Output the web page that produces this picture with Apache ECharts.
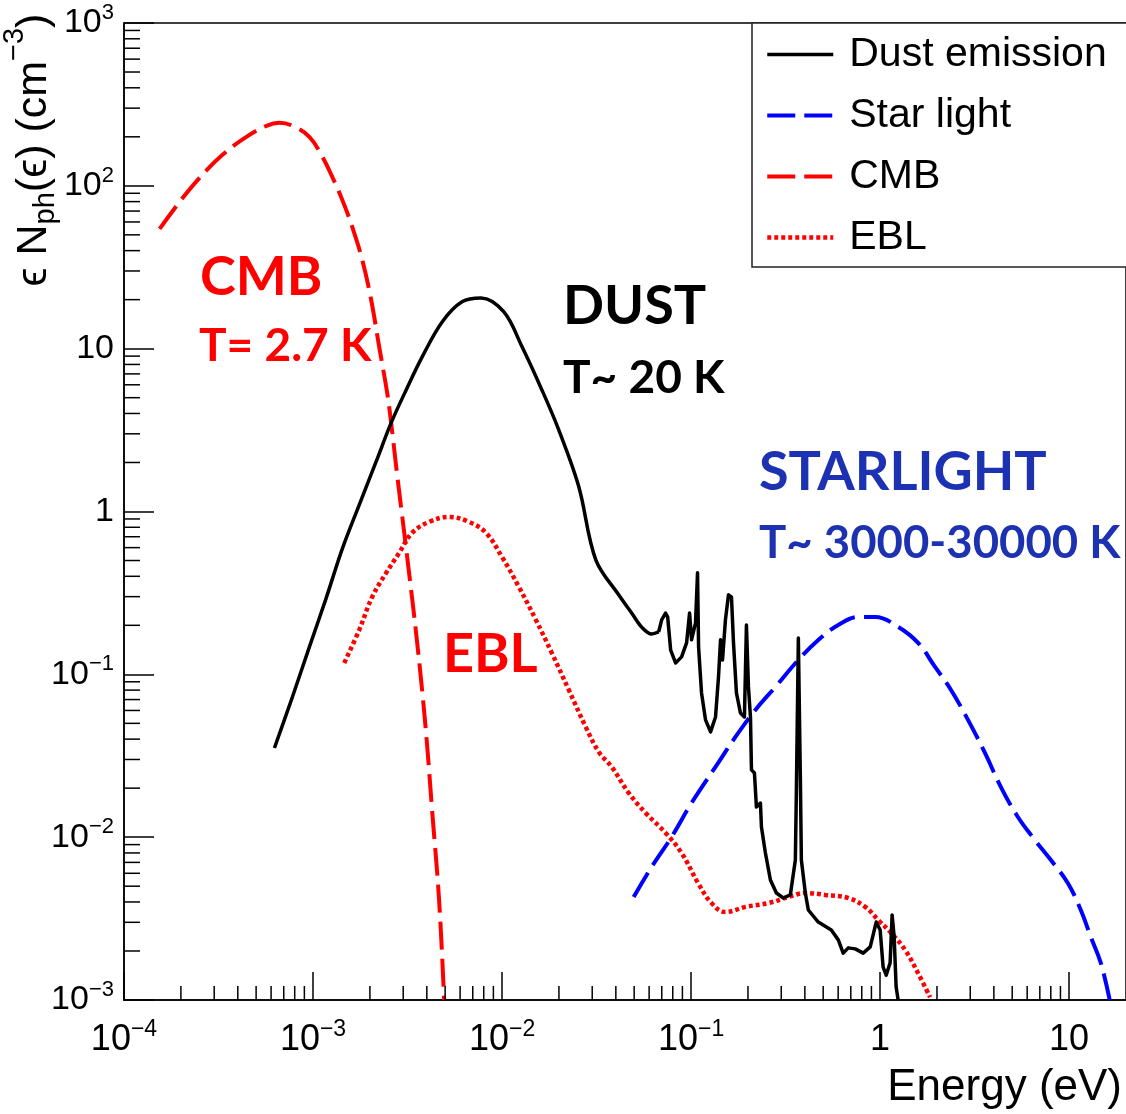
<!DOCTYPE html>
<html><head><meta charset="utf-8">
<script src="https://cdn.jsdelivr.net/npm/echarts@6/dist/echarts.min.js"></script>
<style>html,body{margin:0;padding:0;background:#fff}#c{width:1126px;height:1114px}</style>
</head><body><div id="c"></div>
<script>
// ---- data (energy in eV, eps*N_ph in cm^-3) ----
const dustE = [6.25e-4,7.78e-4,9.56e-4,1.175e-3,1.428e-3,1.756e-3,2.159e-3,2.59e-3,3.11e-3,3.78e-3,4.82e-3,6.14e-3,7.74e-3,0.01023,0.01274,0.01625,0.01995,0.02547,0.03133,0.0414,0.0485,0.0548,0.0619,0.0674,0.0699,0.0733,0.0752,0.0780,0.0828,0.0891,0.0947,0.0982,0.1006,0.1056,0.1082,0.1096,0.1136,0.1193,0.1268,0.1347,0.1397,0.1432,0.1467,0.152,0.1578,0.1636,0.1677,0.1738,0.1825,0.1916,0.1963,0.2012,0.2062,0.2087,0.2164,0.2217,0.2328,0.2357,0.2474,0.2629,0.2828,0.3079,0.3351,0.3562,0.3606,0.3695,0.3786,0.3833,0.4023,0.4173,0.471,0.552,0.601,0.638,0.679,0.739,0.814,0.887,0.954,1.001,1.038,1.077,1.130,1.158,1.187,1.216,1.246];
const dustN = [0.0353,0.0726,0.147,0.295,0.59,1.10,2.03,3.50,5.58,8.91,14.6,19.4,20.5,16.8,10.3,5.58,3.17,1.42,0.505,0.308,0.238,0.195,0.177,0.182,0.216,0.238,0.225,0.141,0.1175,0.128,0.156,0.238,0.163,0.207,0.420,0.147,0.0769,0.0525,0.0443,0.0547,0.0964,0.163,0.1225,0.216,0.308,0.298,0.156,0.0769,0.0579,0.0547,0.201,0.0837,0.0547,0.0259,0.0248,0.0153,0.0162,0.01155,0.0080,0.00546,0.00454,0.00423,0.00442,0.00724,0.0187,0.1674,0.0234,0.00724,0.00454,0.00357,0.00301,0.00269,0.00234,0.00194,0.00209,0.00206,0.00194,0.00212,0.00301,0.00269,0.00159,0.00142,0.00169,0.00333,0.00244,0.00120,0.00100];

const starE = [0.04971,0.06186,0.07886,0.1006,0.1347,0.1717,0.2190,0.2793,0.3695,0.4711,0.6009,0.7667,0.9421,1.246,1.589,1.954,2.373,2.918,3.588,4.358,5.36,6.59,8.008,9.84,11.53,13.02,14.71,16.40];
const starN = [0.00429,0.00656,0.01003,0.01622,0.0270,0.04125,0.06044,0.0837,0.1226,0.1627,0.2011,0.2252,0.2252,0.1956,0.1559,0.1110,0.0802,0.0525,0.0329,0.0203,0.0133,0.00961,0.00724,0.00523,0.00357,0.00244,0.00169,0.00100];

const cmbE = [1.543e-4,1.968e-4,2.51e-4,3.32e-4,4.44e-4,5.67e-4,6.64e-4,7.78e-4,9.56e-4,1.106e-3,1.264e-3,1.428e-3,1.612e-3,1.821e-3,2.031e-3,2.239e-3,2.468e-3,2.59e-3,2.787e-3,3.034e-3,3.304e-3,3.51e-3,3.776e-3,4.013e-3,4.264e-3,4.645e-3,4.94e-3];
const cmbN = [54.4,79.7,112,155,200,233.7,243.8,233.7,200,155,113.6,82.0,56.0,35.1,19.9,10.26,5.35,3.50,1.678,0.749,0.330,0.1796,0.0802,0.0368,0.01469,0.00411,0.00100];

const eblE = [1.463e-3,1.756e-3,2.056e-3,2.438e-3,2.855e-3,3.344e-3,4.111e-3,5.244e-3,6.688e-3,8.22e-3,9.99e-3,0.01228,0.0151,0.01834,0.02255,0.02773,0.03248,0.03804,0.04677,0.05752,0.07334,0.08907,0.1096,0.1283,0.1521,0.1940,0.2566,0.3271,0.4023,0.5129,0.6787,0.8344,0.977,1.144,1.357,1.589,1.839];
const eblN = [0.1175,0.1874,0.2988,0.4197,0.5567,0.7389,0.8631,0.9264,0.8631,0.7389,0.5262,0.3442,0.2159,0.1353,0.0802,0.0475,0.0334,0.0270,0.0187,0.01408,0.01061,0.00800,0.00516,0.00394,0.00347,0.00373,0.00394,0.00429,0.00454,0.00442,0.00423,0.00373,0.00310,0.00258,0.00203,0.00146,0.00104];

const seriesNames = ['Dust emission','Star light','CMB','EBL'];
const xTickLabels = ['10^\u22124','10^\u22123','10^\u22122','10^\u22121','1','10'];   // decades -4..1
const yTickLabels = ['10^\u22123','10^\u22122','10^\u22121','1','10','10^2','10^3']; // decades -3..3
const xMin = 1e-4, xMax = 20, yMin = 1e-3, yMax = 1e3;
const dustSmoothEnd = 23; // continuum part drawn smooth, band features drawn sharp

const zip = (a, b) => a.map((v, i) => [v, b[i]]);
const minorVals = (lo, hi) => { const out = []; for (let d = lo; d <= hi; d++) for (let m = 2; m <= 9; m++) out.push(m * Math.pow(10, d)); return out; };
const xMinor = minorVals(-4, 1).filter(v => v < xMax);
const yMinor = minorVals(-3, 2);

const FONT = 'Liberation Sans, Arial, Helvetica, sans-serif';
function fmt(labels, base) {
  return v => {
    const l = Math.log10(v), e = Math.round(l);
    if (Math.abs(l - e) > 1e-6) return '';
    const s = labels[e - base];
    if (s === undefined) return '';
    const p = s.split('^');
    return p.length > 1 ? '{b|' + p[0] + '}{s|' + p[1] + '}' : '{b|' + p[0] + '}';
  };
}
function rich(size, sup) {
  return {
    b: { fontSize: size, fontFamily: FONT, color: '#000', lineHeight: size, verticalAlign: 'bottom' },
    s: { fontSize: sup, fontFamily: FONT, color: '#000', lineHeight: sup, padding: [0, 0, Math.round(size * 0.47), 0], verticalAlign: 'bottom' }
  };
}

const RED = '#ff0000', BLUE = '#0000ff', TXTBLUE = '#1c32b2';
const DASH = [28, 9], DOT = [4, 3];
const dustAll = zip(dustE, dustN);

const chart = echarts.init(document.getElementById('c'), null, { renderer: 'canvas' });
const option = {
  animation: false,
  backgroundColor: '#fff',
  grid: { left: 124, top: 23, width: 1004, height: 977, show: true, borderColor: '#000', borderWidth: 1.5, backgroundColor: 'transparent' },
  xAxis: {
    type: 'log', logBase: 10, min: xMin, max: xMax,
    axisLine: { show: true, lineStyle: { color: '#000', width: 1.5 } },
    axisTick: { show: true, inside: true, length: 28, lineStyle: { color: '#000', width: 1.5 } },
    splitLine: { show: false },
    axisLabel: { margin: 22, formatter: fmt(xTickLabels, -4), rich: rich(36, 23), showMaxLabel: false },
    name: 'Energy (eV)', nameLocation: 'end', nameGap: -4,
    nameTextStyle: { fontSize: 44, fontFamily: FONT, color: '#000', align: 'right', verticalAlign: 'top', padding: [66, 0, 0, 0] }
  },
  yAxis: {
    type: 'log', logBase: 10, min: yMin, max: yMax,
    axisLine: { show: true, lineStyle: { color: '#000', width: 1.5 } },
    axisTick: { show: true, inside: true, length: 30, lineStyle: { color: '#000', width: 1.5 } },
    splitLine: { show: false },
    axisLabel: { margin: 10, formatter: fmt(yTickLabels, -3), rich: rich(34, 22) }
  },
  legend: {
    orient: 'vertical', left: 752, top: 23,
    data: [
      { name: seriesNames[0], itemStyle: { opacity: 0 }, lineStyle: { width: 3.5, color: '#000', type: 'solid' } },
      { name: seriesNames[1], itemStyle: { opacity: 0 }, lineStyle: { width: 4, color: BLUE, type: DASH } },
      { name: seriesNames[2], itemStyle: { opacity: 0 }, lineStyle: { width: 4, color: RED, type: DASH } },
      { name: seriesNames[3], itemStyle: { opacity: 0 }, lineStyle: { width: 4.5, color: RED, type: DOT } }
    ],
    itemWidth: 66, itemHeight: 14, itemGap: 20,
    padding: [11, 40, 9, 13],
    borderColor: '#222', borderWidth: 1.5, backgroundColor: '#fff',
    textStyle: { fontSize: 41, fontFamily: FONT, color: '#000', padding: [0, 0, 0, 11] },
    selectedMode: false
  },
  series: [
    { name: seriesNames[0], type: 'line', data: dustAll.slice(0, dustSmoothEnd + 1), symbol: 'none', smooth: 0.35, z: 4,
      lineStyle: { color: '#000', width: 3.5, join: 'round' }, itemStyle: { color: '#000' } },
    { name: seriesNames[0], type: 'line', data: dustAll.slice(dustSmoothEnd), symbol: 'none', smooth: false, z: 4,
      lineStyle: { color: '#000', width: 3.5, join: 'round' }, itemStyle: { color: '#000' } },
    { name: seriesNames[1], type: 'line', data: zip(starE, starN), symbol: 'none', smooth: 0.4, z: 3,
      lineStyle: { color: BLUE, width: 4, type: DASH }, itemStyle: { color: BLUE } },
    { name: seriesNames[2], type: 'line', data: zip(cmbE, cmbN), symbol: 'none', smooth: 0.4, z: 3,
      lineStyle: { color: RED, width: 4, type: DASH }, itemStyle: { color: RED } },
    { name: seriesNames[3], type: 'line', data: zip(eblE, eblN), symbol: 'none', smooth: 0.4, z: 3,
      lineStyle: { color: RED, width: 4.5, type: DOT }, itemStyle: { color: RED } },
    { type: 'custom', silent: true, clip: false, z: 5, data: xMinor.map(v => [v, yMin]),
      renderItem: (p, api) => { const c = api.coord([api.value(0), api.value(1)]);
        return { type: 'line', shape: { x1: c[0], y1: c[1], x2: c[0], y2: c[1] - 14 }, style: { stroke: '#000', lineWidth: 1.5 } }; } },
    { type: 'custom', silent: true, clip: false, z: 5, data: yMinor.map(v => [xMin, v]),
      renderItem: (p, api) => { const c = api.coord([api.value(0), api.value(1)]);
        return { type: 'line', shape: { x1: c[0], y1: c[1], x2: c[0] + 16, y2: c[1] }, style: { stroke: '#000', lineWidth: 1.5 } }; } }
  ],
  graphic: [
    { type: 'text', x: 39, y: 150, rotation: Math.PI / 2,
      style: { text: '{a|\u03f5 N}{sub|ph}{a|(\u03f5) (cm}{sup|\u22123}{a|)}', align: 'center', verticalAlign: 'middle',
        rich: {
          a: { fontSize: 43, fontFamily: FONT, fill: '#000', lineHeight: 43, padding: [0, 0, 5, 0], verticalAlign: 'bottom' },
          sub: { fontSize: 29, fontFamily: FONT, fill: '#000', lineHeight: 29, verticalAlign: 'bottom' },
          sup: { fontSize: 29, fontFamily: FONT, fill: '#000', lineHeight: 29, padding: [0, 0, 31, 0], verticalAlign: 'bottom' }
        } } },
    { type: 'text', x: 200, y: 278, style: { text: 'CMB', fill: RED, fontSize: 54, fontWeight: 'bold', fontFamily: 'Lato', verticalAlign: 'middle' } },
    { type: 'text', x: 199, y: 346, style: { text: 'T= 2.7 K', fill: RED, fontSize: 46, fontWeight: 'bold', fontFamily: 'Lato', verticalAlign: 'middle' } },
    { type: 'text', x: 563, y: 307, style: { text: 'DUST', fill: '#000', fontSize: 54, fontWeight: 'bold', fontFamily: 'Lato', verticalAlign: 'middle' } },
    { type: 'text', x: 563, y: 378, style: { text: 'T~ 20 K', fill: '#000', fontSize: 46, fontWeight: 'bold', fontFamily: 'Lato', verticalAlign: 'middle' } },
    { type: 'text', x: 759, y: 473, style: { text: 'STARLIGHT', fill: TXTBLUE, fontSize: 54, fontWeight: 'bold', fontFamily: 'Lato', verticalAlign: 'middle' } },
    { type: 'text', x: 759, y: 543, style: { text: 'T~ 3000-30000 K', fill: TXTBLUE, fontSize: 45.5, fontWeight: 'bold', fontFamily: 'Lato', verticalAlign: 'middle' } },
    { type: 'text', x: 443, y: 655, style: { text: 'EBL', fill: RED, fontSize: 54, fontWeight: 'bold', fontFamily: 'Lato', verticalAlign: 'middle' } }
  ]
};
chart.setOption(option);
</script></body></html>
